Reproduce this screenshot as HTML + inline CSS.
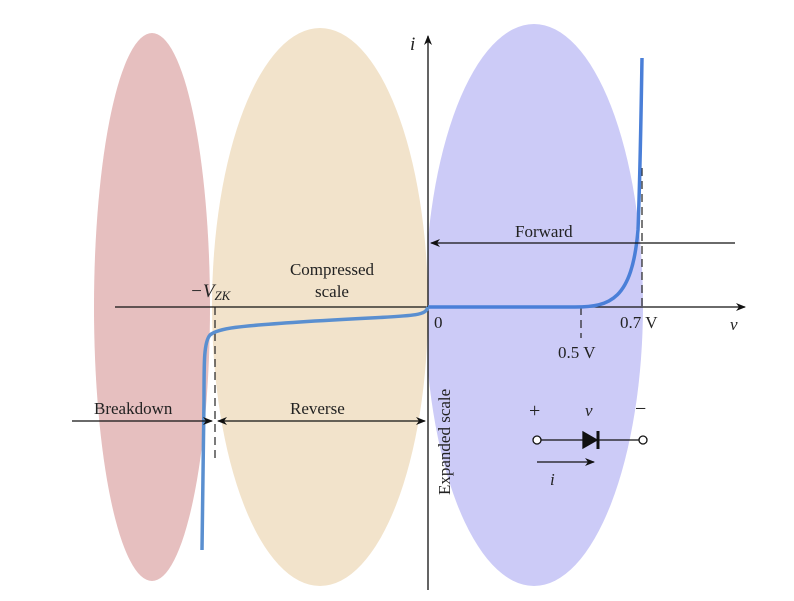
<!DOCTYPE html>
<html><head><meta charset="utf-8"><style>
body{margin:0;background:#fff}
svg{display:block;font-family:"Liberation Serif",serif}
</style></head><body>
<svg width="794" height="601" viewBox="0 0 794 601">
<defs>
<clipPath id="rc"><rect x="428" y="0" width="400" height="601"/></clipPath>
<marker id="ah" markerWidth="10" markerHeight="8" refX="9" refY="4" orient="auto" markerUnits="userSpaceOnUse"><path d="M0,0 L10,4 L0,8 L3,4z" fill="#111"/></marker>
</defs>
<ellipse cx="152" cy="307" rx="58" ry="274" fill="#e6bfbf"/>
<ellipse cx="320" cy="307" rx="108" ry="279" fill="#f2e3cb"/>
<ellipse cx="534" cy="305" rx="109" ry="281" fill="#cccbf7" clip-path="url(#rc)"/>
<line x1="115" y1="307" x2="745" y2="307" stroke="#111" stroke-width="1.3" marker-end="url(#ah)"/>
<line x1="428" y1="590" x2="428" y2="36" stroke="#111" stroke-width="1.3" marker-end="url(#ah)"/>
<g stroke="#222" stroke-width="1.2" stroke-dasharray="8,5" fill="none">
<line x1="215" y1="307" x2="215" y2="460"/>
<line x1="581" y1="307" x2="581" y2="338"/>
<line x1="642" y1="168" x2="642" y2="307"/>
</g>
<path d="M428,307 L575,307 C610,307 632,300 638,230 C640,180 641,120 642,58" fill="none" stroke="#4a7fd8" stroke-width="3.5"/>
<path d="M428,307 C425,318 410,315 300,322 C240,326 218,328 210,335 C204,342 204,360 204,400 L202,550" fill="none" stroke="#5a8fd0" stroke-width="3.5"/>
<line x1="735" y1="243" x2="431" y2="243" stroke="#111" stroke-width="1.2" marker-end="url(#ah)"/>
<line x1="72" y1="421" x2="212" y2="421" stroke="#111" stroke-width="1.2" marker-end="url(#ah)"/>
<line x1="322" y1="421" x2="425" y2="421" stroke="#111" stroke-width="1.2" marker-end="url(#ah)"/>
<line x1="322" y1="421" x2="218" y2="421" stroke="#111" stroke-width="1.2" marker-end="url(#ah)"/>
<g fill="#222" font-size="17">
<text x="515" y="237">Forward</text>
<text x="332" y="275" text-anchor="middle">Compressed</text>
<text x="332" y="297" text-anchor="middle">scale</text>
<text x="190" y="297" font-style="italic" font-size="19">−V<tspan font-size="13" dy="3">ZK</tspan></text>
<text x="94" y="414">Breakdown</text>
<text x="290" y="414">Reverse</text>
<text x="434" y="328">0</text>
<text x="558" y="358">0.5 V</text>
<text x="620" y="328">0.7 V</text>
<text x="730" y="330" font-style="italic">v</text>
<text x="410" y="50" font-style="italic" font-size="19">i</text>
<text transform="translate(450,495) rotate(-90)">Expanded scale</text>
<text x="529" y="417" font-size="20">+</text>
<text x="585" y="416" font-style="italic">v</text>
<text x="635" y="415" font-size="20">−</text>
<text x="550" y="485" font-style="italic">i</text>
</g>
<g stroke="#111" stroke-width="1.3">
<line x1="541" y1="440" x2="639" y2="440"/>
<circle cx="537" cy="440" r="4" fill="#fff"/>
<circle cx="643" cy="440" r="4" fill="#fff"/>
<path d="M583,432 L597,440 L583,448z" fill="#111"/>
<line x1="598" y1="431" x2="598" y2="449" stroke-width="3"/>
<line x1="537" y1="462" x2="594" y2="462" marker-end="url(#ah)"/>
</g>
</svg>
</body></html>
